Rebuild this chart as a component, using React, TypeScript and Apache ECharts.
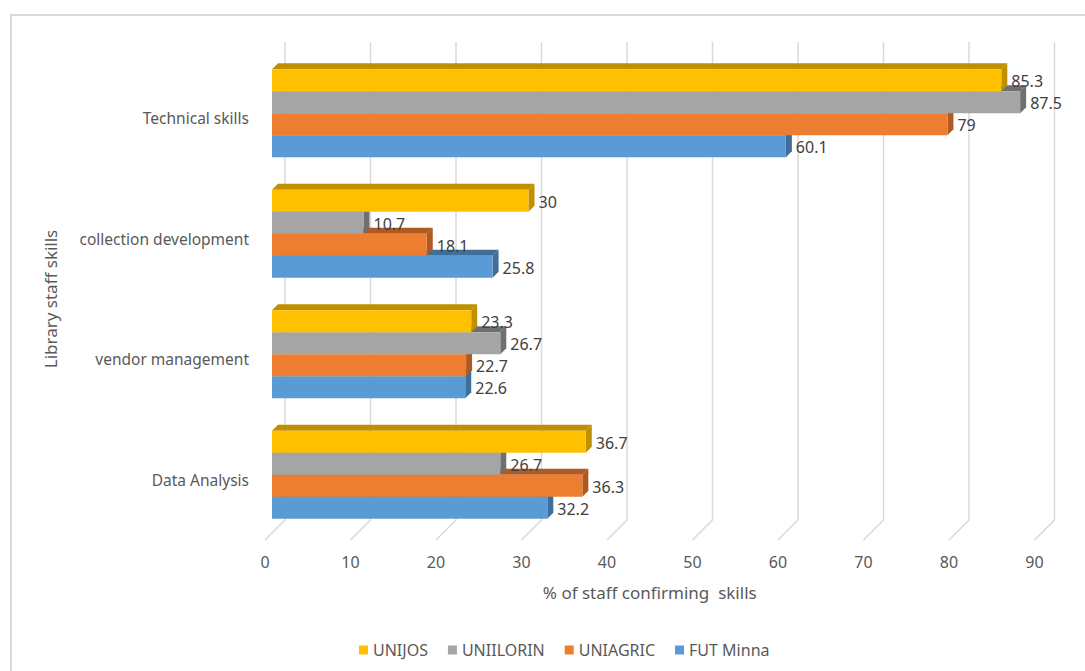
import React, { useEffect, useRef } from "react";
import * as echarts from "echarts";

const categories = ["Data Analysis", "vendor management", "collection development", "Technical skills"];
const unijos = [36.7, 23.3, 30, 85.3];
const uniilorin = [26.7, 26.7, 10.7, 87.5];
const uniagric = [36.3, 22.7, 18.1, 79];
const futMinna = [32.2, 22.6, 25.8, 60.1];
const xTicks = [0, 10, 20, 30, 40, 50, 60, 70, 80, 90];

const seriesDefs = [
  { name: "UNIJOS", data: unijos, color: "#FFC000", dark: "#BF9000", slot: 0 },
  { name: "UNIILORIN", data: uniilorin, color: "#A5A5A5", dark: "#6F6F6F", slot: 1 },
  { name: "UNIAGRIC", data: uniagric, color: "#ED7D31", dark: "#AE5A21", slot: 2 },
  { name: "FUT Minna", data: futMinna, color: "#5B9BD5", dark: "#3F6E99", slot: 3 },
];

const FONT = "'Noto Sans', 'Open Sans', sans-serif";
const TEXT = "#595959";

export default function App() {
  const ref = useRef<HTMLDivElement>(null);
  useEffect(() => {
    if (!ref.current) return;
    const chart = echarts.init(ref.current, null, { renderer: "svg" });
    const dx = 6;
    const dy = 6;
    const barSeries = seriesDefs.map((s) => ({
      type: "custom",
      name: s.name,
      xAxisIndex: 0,
      yAxisIndex: 0,
      clip: false,
      z: 10 - s.slot,
      itemStyle: { color: s.color },
      data: s.data.map((v, i) => [v, i]),
      renderItem: (params: any, api: any) => {
        const val = api.value(0);
        const cat = api.value(1);
        const start = api.coord([0, cat]);
        const end = api.coord([val, cat]);
        const band = api.size([0, 1])[1];
        const bw = band * 0.183;
        const center = start[1] - 5;
        const y0 = center - 2 * bw + s.slot * bw;
        const y1 = y0 + bw;
        const x0 = start[0];
        const x1 = end[0];
        return {
          type: "group",
          children: [
            {
              type: "polygon",
              shape: { points: [[x0, y0], [x0 + dx, y0 - dy], [x1 + dx, y0 - dy], [x1, y0]] },
              style: { fill: s.dark },
            },
            {
              type: "polygon",
              shape: { points: [[x1, y0], [x1 + dx, y0 - dy], [x1 + dx, y1 - dy], [x1, y1]] },
              style: { fill: s.dark },
            },
            {
              type: "rect",
              shape: { x: x0, y: y0, width: x1 - x0, height: bw },
              style: { fill: s.color },
            },
            {
              type: "text",
              x: x1 + dx + 4,
              y: (y0 + y1) / 2 + 1,
              style: {
                text: String(val),
                fill: "#404040",
                font: `16px ${FONT}`,
                verticalAlign: "middle",
                align: "left",
              },
            },
          ],
        };
      },
    }));

    const gridSeries = {
      type: "custom",
      name: "grid",
      xAxisIndex: 0,
      yAxisIndex: 0,
      clip: false,
      silent: true,
      z: 1,
      data: xTicks.map((v) => [v, 0]),
      renderItem: (params: any, api: any) => {
        const p = api.coord([api.value(0), 0]);
        const cs = params.coordSys;
        return {
          type: "polyline",
          shape: {
            points: [
              [p[0] + 13, cs.y - 16],
              [p[0] + 13, cs.y + cs.height - 20],
              [p[0] - 7, cs.y + cs.height],
            ],
          },
          style: { stroke: "#D9D9D9", lineWidth: 1.5, fill: "none" },
        };
      },
    };

    chart.setOption({
      animation: false,
      backgroundColor: "#FFFFFF",
      textStyle: { fontFamily: FONT },
      graphic: [
        {
          type: "polyline",
          shape: { points: [[11, 700], [11, 15], [1100, 15]] },
          style: { stroke: "#D9D9D9", lineWidth: 2, fill: "none" },
          silent: true,
        },
      ],
      legend: {
        data: seriesDefs.map((s) => s.name),
        top: 637,
        left: 354,
        icon: "rect",
        itemWidth: 9,
        itemHeight: 9,
        itemGap: 20,
        textStyle: { fontSize: 16, color: TEXT, fontFamily: FONT },
      },
      grid: [
        { left: 272, width: 769.5, top: 58, height: 482 },
        { left: 265, width: 769.5, top: 58, height: 482 },
      ],
      xAxis: [
        {
          type: "value",
          gridIndex: 0,
          min: 0,
          max: 90,
          interval: 10,
          axisLabel: { show: false },
          axisLine: { show: false },
          axisTick: { show: false },
          splitLine: { show: false },
        },
        {
          type: "value",
          gridIndex: 1,
          min: 0,
          max: 90,
          interval: 10,
          name: "% of staff confirming  skills",
          nameLocation: "middle",
          nameGap: 44,
          nameTextStyle: { fontSize: 17, color: TEXT, fontFamily: FONT },
          axisLabel: { fontSize: 16, color: TEXT, margin: 14, fontFamily: FONT },
          axisLine: { show: false },
          axisTick: { show: false },
          splitLine: { show: false },
        },
      ],
      yAxis: [
        {
          type: "category",
          gridIndex: 0,
          data: categories,
          name: "Library staff skills",
          nameLocation: "middle",
          nameGap: 213,
          nameRotate: 90,
          nameTextStyle: { fontSize: 17, color: TEXT, fontFamily: FONT },
          axisLabel: { fontSize: 15.5, color: TEXT, margin: 23, fontFamily: FONT },
          axisLine: { show: false },
          axisTick: { show: false },
          splitLine: { show: false },
        },
        { type: "category", gridIndex: 1, data: categories, show: false },
      ],
      series: [gridSeries, ...barSeries],
    });
    return () => chart.dispose();
  }, []);
  return (
    <div
      ref={ref}
      style={{ position: "absolute", left: 0, top: 0, width: 1085, height: 671 }}
    />
  );
}
